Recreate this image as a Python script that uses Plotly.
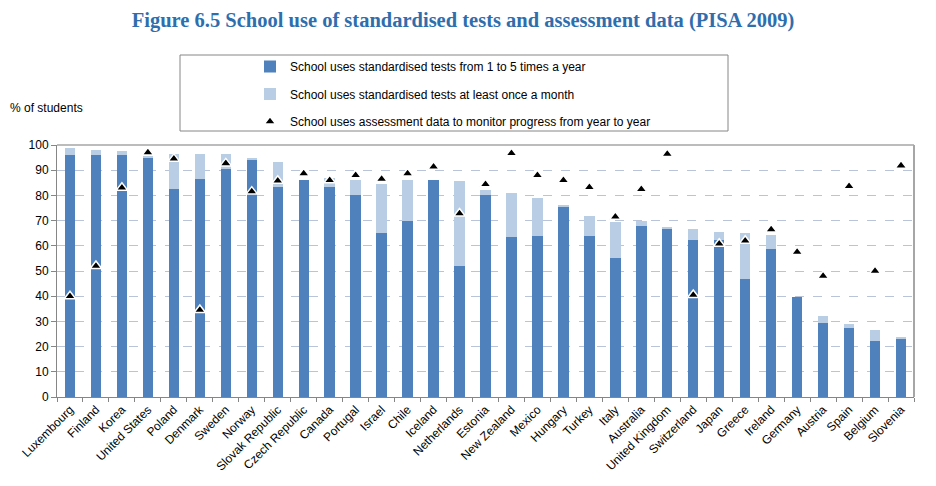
import plotly.graph_objects as go

countries = ["Luxembourg", "Finland", "Korea", "United States", "Poland", "Denmark", "Sweden",
             "Norway", "Slovak Republic", "Czech Republic", "Canada", "Portugal", "Israel", "Chile",
             "Iceland", "Netherlands", "Estonia", "New Zealand", "Mexico", "Hungary", "Turkey",
             "Italy", "Australia", "United Kingdom", "Switzerland", "Japan", "Greece", "Ireland",
             "Germany", "Austria", "Spain", "Belgium", "Slovenia"]

tests_1_to_5 = [96, 96, 96, 95, 82.5, 86.5, 90.5, 94, 83.5, 86.2, 83.3, 80, 65, 70, 86, 52, 80,
                63.3, 64, 75.5, 64, 55.2, 68, 66.5, 62.3, 62.5, 47, 58.7, 39.8, 29.5, 27.3, 22.3, 23.2]

tests_monthly = [3, 2, 1.7, 0.3, 14, 10, 6, 1, 9.8, 0, 3.5, 6, 19.5, 16, 0, 33.7, 2, 17.7, 15,
                 0.5, 8, 14.2, 2, 0.8, 4.2, 2.8, 18, 5.6, 0, 2.5, 1.7, 4.2, 0.4]

assessment_data = [40, 52, 83, 97, 94.5, 34.5, 92.7, 81.5, 85.8, 88.7, 86, 88, 86.5, 88.7, 91.4,
                   72.8, 84.4, 96.7, 88, 86, 83.2, 71.5, 82.4, 96.4, 40.5, 60.8, 62, 66.5, 57.5,
                   48, 83.6, 50, 91.8]

y_ticks = [0, 10, 20, 30, 40, 50, 60, 70, 80, 90, 100]

DARK = "#4F81BD"
LIGHT = "#B9CDE5"
FONT = "Liberation Sans, Arial, sans-serif"

fig = go.Figure()
fig.add_trace(go.Bar(
    x=countries, y=tests_1_to_5, name="School uses standardised tests from 1 to 5 times a year",
    marker=dict(color=DARK, line=dict(width=0)), legendgroup="a"))
fig.add_trace(go.Bar(
    x=countries, y=tests_monthly, name="School uses standardised tests at least once a month",
    marker=dict(color=LIGHT, line=dict(width=0)), legendgroup="b"))
fig.add_trace(go.Scatter(
    x=countries, y=assessment_data, mode="markers",
    name="School uses assessment data to monitor progress from year to year",
    marker=dict(symbol="triangle-up", size=10, color="black", line=dict(color="white", width=1.5)),
    legendgroup="c"))

# plot area: x 57..914, y 145..397
PL, PR, PT, PB = 57, 914, 145, 397
W, H = 936, 486
pw, ph = PR - PL, PB - PT

def px_x(x):
    return (x - PL) / pw

def px_y(y):
    return (PB - y) / ph

fig.update_layout(
    width=W, height=H,
    margin=dict(l=PL, r=W - PR, t=PT, b=H - PB, autoexpand=False),
    paper_bgcolor="white", plot_bgcolor="white",
    barmode="stack", bargap=0.6,
    font=dict(family=FONT, size=12, color="black"),
    title=dict(
        text="<b>Figure 6.5 School use of standardised tests and assessment data (PISA 2009)</b>",
        font=dict(family="Liberation Serif, Times New Roman, serif", size=20.5, color="#2F6EAD"),
        x=463 / W, xanchor="center", xref="container",
        y=1 - 20 / H, yanchor="middle", yref="container", automargin=False),
    showlegend=True,
    legend=dict(
        xref="container", yref="container",
        x=250 / W, y=1 - 52 / H, xanchor="left", yanchor="top",
        bgcolor="rgba(0,0,0,0)", borderwidth=0,
        font=dict(family=FONT, size=12), tracegroupgap=8.5, itemwidth=30),
    xaxis=dict(
        type="category", range=[-0.5, len(countries) - 0.5],
        tickangle=-45, ticks="outside", tickson="boundaries", ticklen=4,
        tickcolor="#868686", showline=True, linecolor="#868686", linewidth=1, automargin=False,
        mirror=False, showgrid=False, tickfont=dict(family=FONT, size=12)),
    yaxis=dict(
        range=[0, 100], tickvals=y_ticks, ticks="outside", ticklen=5, tickcolor="#868686",
        showline=True, linecolor="#868686", linewidth=1, automargin=False,
        showgrid=True, gridcolor="#BAC4D8", griddash="dash", gridwidth=1,
        zeroline=False, tickfont=dict(family=FONT, size=12)),
    shapes=[
        dict(type="rect", xref="paper", yref="paper", x0=px_x(180), x1=px_x(728),
             y0=px_y(131), y1=px_y(55), line=dict(color="#868686", width=1), fillcolor="rgba(0,0,0,0)"),
        # plot frame (top and right)
        dict(type="line", xref="paper", yref="paper", x0=0, x1=1, y0=1, y1=1,
             line=dict(color="#A6A6A6", width=1.5)),
        dict(type="line", xref="paper", yref="paper", x0=1, x1=1, y0=0, y1=1,
             line=dict(color="#A6A6A6", width=2)),
    ],
    annotations=[
        dict(text="% of students", xref="paper", yref="paper", x=px_x(8), y=px_y(108),
             xanchor="left", yanchor="middle", showarrow=False, font=dict(family=FONT, size=12)),
    ],
)

fig.write_html("out.html", config={"displayModeBar": False},
               post_script="document.body.style.margin='0';")
